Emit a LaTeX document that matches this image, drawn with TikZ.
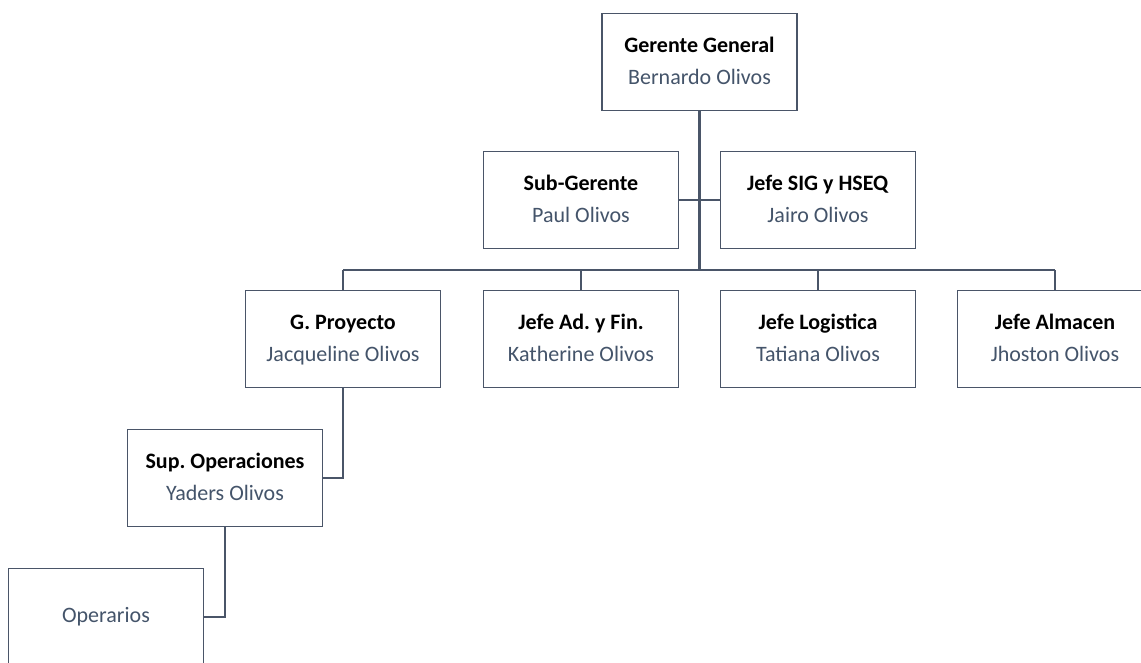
\documentclass[tikz,border=0pt]{standalone}
\usepackage{fontspec}
\setmainfont{Carlito}
\frenchspacing
\definecolor{linea}{HTML}{4A5568}
\definecolor{nombre}{HTML}{44546A}
\tikzset{cargo/.style={draw=linea, line width=1.3pt, fill=white, minimum width=195pt, minimum height=97pt, align=center, inner sep=0pt, font=\fontsize{22}{32}\selectfont},
	rama/.style={draw=linea, line width=1.3pt}}
\newcommand{\puesto}[2]{\textbf{#1}\strut\\{\color{nombre}#2}\strut}
\begin{document}
\begin{tikzpicture}[x=1pt,y=-1pt]%organigrama
		\useasboundingbox (0,0) rectangle (1141,662);
		\clip (0,0) rectangle (1141,662);
		\node[cargo] (gg) at (699.5,62) {\puesto{Gerente General}{Bernardo Olivos}};
		\node[cargo] (sub) at (581,200) {\puesto{Sub-Gerente}{Paul Olivos}};
		\node[cargo] (sig) at (818,200) {\puesto{Jefe SIG y HSEQ}{Jairo Olivos}};
		\node[cargo] (gp) at (343,339) {\puesto{G. Proyecto}{Jacqueline Olivos}};
		\node[cargo] (adm) at (581,339) {\puesto{Jefe Ad. y Fin.}{Katherine Olivos}};
		\node[cargo] (log) at (818,339) {\puesto{Jefe Logistica}{Tatiana Olivos}};
		\node[cargo] (alm) at (1055,339) {\puesto{Jefe Almacen}{Jhoston Olivos}};
		\node[cargo] (sup) at (225,478) {\puesto{Sup. Operaciones}{Yaders Olivos}};
		\node[cargo] (ope) at (106,617) {\color{nombre}Operarios};
		\coordinate (bus) at (699.5,270);
		% lineas
		\draw[rama] (sub.east) -- (sig.west);
		\draw[rama] (gp.north |- bus) -- (alm.north |- bus);
		\foreach \n in {gp,adm,log,alm}
		\draw[rama] (\n.north) -- (\n.north |- bus);
		\draw[rama, line width=2.5pt] (gg.south) -- (bus);
		\draw[rama] (gp.south) |- (sup.east);
		\draw[rama] (sup.south) |- (ope.east);
		\end{tikzpicture}
\end{document}
